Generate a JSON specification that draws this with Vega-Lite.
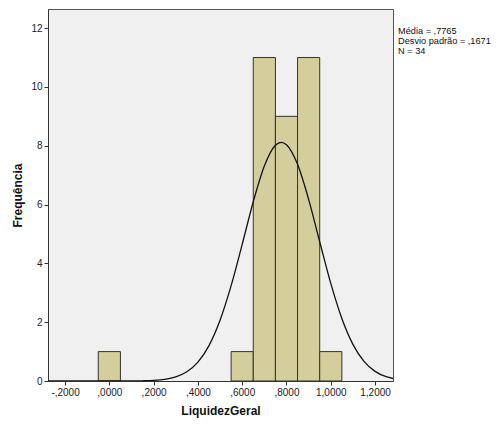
{
  "$schema": "https://vega.github.io/schema/vega-lite/v6.json",
  "width": 345,
  "height": 372,
  "autosize": {"type": "none"},
  "padding": {"left": 48, "top": 9, "right": 103, "bottom": 45},
  "background": "white",
  "config": {
    "view": {"stroke": "#555555", "strokeWidth": 1, "fill": "#f0f0f0"},
    "font": "Liberation Sans",
    "axis": {
      "labelFont": "Liberation Sans",
      "labelFontSize": 10,
      "labelColor": "#222222",
      "titleFont": "Liberation Sans",
      "titleFontSize": 12,
      "titleFontWeight": "bold",
      "titleColor": "#111111",
      "tickColor": "#333333",
      "tickSize": 4,
      "domainColor": "#333333",
      "grid": false
    }
  },
  "datasets": {
    "bins": [
      {"bin_start": -0.05, "bin_end": 0.05, "count": 1},
      {"bin_start": 0.55, "bin_end": 0.65, "count": 1},
      {"bin_start": 0.65, "bin_end": 0.75, "count": 11},
      {"bin_start": 0.75, "bin_end": 0.85, "count": 9},
      {"bin_start": 0.85, "bin_end": 0.95, "count": 11},
      {"bin_start": 0.95, "bin_end": 1.05, "count": 1}
    ],
    "curve": [
      {"x": -0.277, "y": 0},
      {"x": -0.1, "y": 0},
      {"x": 0.0, "y": 0.0002},
      {"x": 0.1, "y": 0.0022},
      {"x": 0.15, "y": 0.0072},
      {"x": 0.2, "y": 0.021},
      {"x": 0.25, "y": 0.0567},
      {"x": 0.3, "y": 0.139},
      {"x": 0.35, "y": 0.312},
      {"x": 0.4, "y": 0.642},
      {"x": 0.45, "y": 1.204},
      {"x": 0.5, "y": 2.065},
      {"x": 0.55, "y": 3.241},
      {"x": 0.6, "y": 4.647},
      {"x": 0.65, "y": 6.095},
      {"x": 0.7, "y": 7.309},
      {"x": 0.75, "y": 8.015},
      {"x": 0.7765, "y": 8.117},
      {"x": 0.8, "y": 8.037},
      {"x": 0.85, "y": 7.369},
      {"x": 0.9, "y": 6.177},
      {"x": 0.95, "y": 4.735},
      {"x": 1.0, "y": 3.318},
      {"x": 1.05, "y": 2.127},
      {"x": 1.1, "y": 1.246},
      {"x": 1.15, "y": 0.668},
      {"x": 1.2, "y": 0.327},
      {"x": 1.25, "y": 0.1465},
      {"x": 1.281, "y": 0.0851}
    ],
    "stats": [
      {"text": "Média = ,7765\nDesvio padrão = ,1671\nN = 34"}
    ]
  },
  "layer": [
    {
      "data": {"name": "bins"},
      "mark": {"type": "bar", "fill": "#d3ce9b", "stroke": "#333333", "strokeWidth": 1},
      "encoding": {
        "x": {
          "field": "bin_start",
          "type": "quantitative",
          "scale": {"domain": [-0.277, 1.281], "nice": false, "zero": false},
          "axis": {
            "title": "LiquidezGeral",
            "values": [-0.2, 0, 0.2, 0.4, 0.6, 0.8, 1.0, 1.2],
            "labelExpr": "replace(replace(replace(format(datum.value, '.4f'), '\u2212', '-'), '0.', ','), '.', ',')",
            "titlePadding": 8
          }
        },
        "x2": {"field": "bin_end"},
        "y": {
          "field": "count",
          "type": "quantitative",
          "scale": {"domain": [0, 12.65], "nice": false},
          "axis": {
            "title": "Frequência",
            "values": [0, 2, 4, 6, 8, 10, 12],
            "titlePadding": 6
          }
        },
        "y2": {"datum": 0}
      }
    },
    {
      "data": {"name": "curve"},
      "mark": {"type": "line", "color": "#111111", "strokeWidth": 1.3, "interpolate": "monotone", "clip": true},
      "encoding": {
        "x": {"field": "x", "type": "quantitative"},
        "y": {"field": "y", "type": "quantitative"}
      }
    },
    {
      "data": {"name": "stats"},
      "mark": {"type": "text", "align": "left", "baseline": "top", "fontSize": 9.2, "font": "Liberation Sans", "color": "#111111", "lineBreak": "\n", "lineHeight": 10},
      "encoding": {
        "x": {"datum": 1.304},
        "y": {"datum": 12.05},
        "text": {"field": "text"}
      }
    }
  ]
}
